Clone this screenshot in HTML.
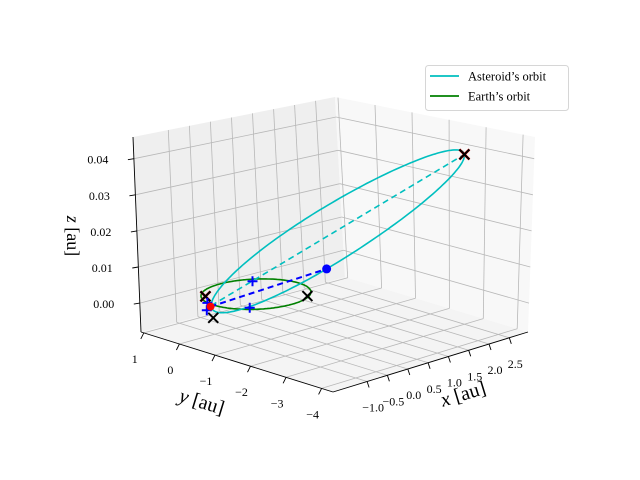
<!DOCTYPE html>
<html><head><meta charset="utf-8">
<style>
html,body{margin:0;padding:0;background:#fff;}
svg{display:block;font-family:"Liberation Serif","DejaVu Serif",serif;}
</style></head>
<body>
<svg id="chart" width="640" height="480" viewBox="0 0 640 480" xmlns="http://www.w3.org/2000/svg">
<rect width="640" height="480" fill="#fff"/>
<g id="panes"></g>
<g id="grid"></g>
<g id="axes"></g>
<g id="series"></g>
<text x="0" y="0" transform="translate(465,400) rotate(-17)" font-size="20" text-anchor="middle"><tspan font-style="italic">x</tspan> [au]</text>
<text x="0" y="0" transform="translate(200,408) rotate(17)" font-size="20" text-anchor="middle"><tspan font-style="italic">y</tspan> [au]</text>
<text x="0" y="0" transform="translate(67,236) rotate(90)" font-size="18" text-anchor="middle"><tspan font-style="italic">z</tspan> [au]</text>
<g>
<rect x="425.5" y="65.5" width="143" height="45" rx="3" fill="#fff" fill-opacity="0.85" stroke="#d6d6d6"/>
<line x1="430" y1="76" x2="459" y2="76" stroke="#00bfbf" stroke-width="1.8"/>
<text x="468" y="80.5" font-size="12.5">Asteroid’s orbit</text>
<line x1="430" y1="96" x2="459" y2="96" stroke="#008000" stroke-width="1.8"/>
<text x="468" y="100.5" font-size="12.5">Earth’s orbit</text>
</g>
</svg>
<script>
// ---- data ----
const xTicks = [-1.0,-0.5,0.0,0.5,1.0,1.5,2.0,2.5];
const xTickLabels = ["\u22121.0","\u22120.5","0.0","0.5","1.0","1.5","2.0","2.5"];
const yTicks = [1,0,-1,-2,-3,-4];
const yTickLabels = ["1","0","\u22121","\u22122","\u22123","\u22124"];
const zTicks = [0.00,0.01,0.02,0.03,0.04];
const zTickLabels = ["0.00","0.01","0.02","0.03","0.04"];
const earthRadius = [1.0];
const asteroidPerihelion = [-1.05, 0.02, 0.0];
const asteroidAphelion = [2.38, -3.06, 0.04];
const asteroidMinorVec = [1.42, 1.68, 0.0];
const asteroidNow = [-0.95, -3.05, 0.018];
const redDot = [-1.10, -0.02, 0.0];
const blackX = [[-0.73,0.56,0.0],[0.55,-0.80,0.0],[-1.54,-0.61,0.0],[2.38,-3.06,0.04]];
const redX = [[-0.73,0.56,0.0],[2.38,-3.06,0.04]];
const bluePlus = [[0.5,0.70,0.0],[-0.66,-0.60,0.0],[-0.98,0.21,0.0],[-1.30,-0.15,0.0]];

// ---- projection ----
const XMIN=-1.84, XMAX=2.96, YMIN=-4.32, YMAX=1.08, ZMIN=-0.008, ZMAX=0.046;
function P(x,y,z){
  const fu=(x-XMIN)/(XMAX-XMIN), fv=(y-YMIN)/(YMAX-YMIN), fz=(z-ZMIN)/(ZMAX-ZMIN);
  const px=333+195*fu-192*fv+9*fu*fv, py=392-60*fu-60*fv+5*fu*fv;
  const zx=9-2*fu-17*fv, zy=-210+15*fu+15*fv;
  return [px+zx*fz, py+zy*fz];
}
const NS="http://www.w3.org/2000/svg";
function mk(parent,tag,attrs){const e=document.createElementNS(NS,tag);for(const k in attrs)e.setAttribute(k,attrs[k]);document.getElementById(parent).appendChild(e);return e;}
function poly(pts){return pts.map(p=>p[0].toFixed(1)+","+p[1].toFixed(1)).join(" ");}

// panes
let e;
e=mk("panes","polygon",{points:poly([P(XMIN,YMIN,ZMIN),P(XMAX,YMIN,ZMIN),P(XMAX,YMAX,ZMIN),P(XMIN,YMAX,ZMIN)]),fill:"#f4f4f4"});


e=mk("panes","polygon",{points:poly([P(XMIN,YMAX,ZMIN),P(XMAX,YMAX,ZMIN),P(XMAX,YMAX,ZMAX),P(XMIN,YMAX,ZMAX)]),fill:"#efefef"});


e=mk("panes","polygon",{points:poly([P(XMAX,YMIN,ZMIN),P(XMAX,YMAX,ZMIN),P(XMAX,YMAX,ZMAX),P(XMAX,YMIN,ZMAX)]),fill:"#f8f8f8"});



// grid
function gl(a,b){const l=mk("grid","polyline",{points:poly([a,b]),stroke:"#b8b8b8","stroke-width":"0.8",fill:"none"});

}
xTicks.forEach(x=>{gl(P(x,YMIN,ZMIN),P(x,YMAX,ZMIN));gl(P(x,YMAX,ZMIN),P(x,YMAX,ZMAX));});
yTicks.forEach(y=>{gl(P(XMIN,y,ZMIN),P(XMAX,y,ZMIN));gl(P(XMAX,y,ZMIN),P(XMAX,y,ZMAX));});
zTicks.forEach(z=>{gl(P(XMIN,YMAX,z),P(XMAX,YMAX,z));gl(P(XMAX,YMAX,z),P(XMAX,YMIN,z));});

// axes lines
function al(a,b,name){const l=mk("axes","polyline",{points:poly([a,b]),stroke:"#000","stroke-width":"0.9",fill:"none"});

}
al(P(XMIN,YMIN,ZMIN),P(XMAX,YMIN,ZMIN),"x-axis-line");
al(P(XMIN,YMIN,ZMIN),P(XMIN,YMAX,ZMIN),"y-axis-line");
al(P(XMIN,YMAX,ZMIN),P(XMIN,YMAX,ZMAX),"z-axis-line");
function txt(p,s,name,anchor){const t=mk("axes","text",{x:p[0].toFixed(1),y:p[1].toFixed(1),"font-size":"12","text-anchor":anchor||"middle"});t.textContent=s;

}
xTicks.forEach((x,i)=>{const p=P(x,YMIN,ZMIN);al(p,[p[0]+2,p[1]+6],"x-tick");txt([p[0]+6,p[1]+30],xTickLabels[i],"x-tick-label");});
yTicks.forEach((y,i)=>{const p=P(XMIN,y,ZMIN);al(p,[p[0]-3,p[1]+6],"y-tick");txt([p[0]-9,p[1]+30],yTickLabels[i],"y-tick-label");});
zTicks.forEach((z,i)=>{const p=P(XMIN,YMAX,z);al(p,[p[0]-6,p[1]+1],"z-tick");txt([p[0]-36,p[1]+5],zTickLabels[i],"z-tick-label");});

// series
function line(pts,color,dash,w,name){const l=mk("series","polyline",{points:poly(pts),stroke:color,"stroke-width":w,fill:"none","stroke-dasharray":dash||"none","stroke-linejoin":"round"});

}
const N=200;
// earth orbit
const ep=[];for(let i=0;i<=N;i++){const t=2*Math.PI*i/N;ep.push(P(earthRadius[0]*Math.cos(t),earthRadius[0]*Math.sin(t),0));}
line(ep,"#008000",null,"1.6","earth-orbit");
// asteroid orbit
const C=[0,1,2].map(k=>(asteroidPerihelion[k]+asteroidAphelion[k])/2);
const U=[0,1,2].map(k=>asteroidAphelion[k]-C[k]);
const ap=[];for(let i=0;i<=N;i++){const t=2*Math.PI*i/N;const c=Math.cos(t),s=Math.sin(t);ap.push(P(C[0]+c*U[0]+s*asteroidMinorVec[0],C[1]+c*U[1]+s*asteroidMinorVec[1],C[2]+c*U[2]+s*asteroidMinorVec[2]));}
line(ap,"#00bfbf",null,"1.6","asteroid-orbit");
line([P(...asteroidPerihelion),P(...asteroidAphelion)],"#00bfbf","6,4","1.6","apsides-line");
line([P(...redDot),P(...asteroidNow)],"#0000ff","6,4","2","sun-asteroid-line");
// markers
function xMark(p,color,sz,w,name){const g=mk("series","path",{d:`M${p[0]-sz},${p[1]-sz}L${p[0]+sz},${p[1]+sz}M${p[0]-sz},${p[1]+sz}L${p[0]+sz},${p[1]-sz}`,stroke:color,"stroke-width":w,fill:"none"});

}
redX.forEach(d=>xMark(P(...d),"#ff0000",5,"2.5","red-x-marker"));
blackX.forEach(d=>xMark(P(...d),"#000",5,"2","black-x-marker"));
bluePlus.forEach(d=>{const p=P(...d);const g=mk("series","path",{d:`M${p[0]-5},${p[1]}L${p[0]+5},${p[1]}M${p[0]},${p[1]-5}L${p[0]},${p[1]+5}`,stroke:"#0000ff","stroke-width":"2",fill:"none"});

});
let rp=P(...redDot);e=mk("series","circle",{cx:rp[0],cy:rp[1],r:4,fill:"#ff0000"});


let bp=P(...asteroidNow);e=mk("series","circle",{cx:bp[0],cy:bp[1],r:4.5,fill:"#0000ff"});


</script>
</body></html>
